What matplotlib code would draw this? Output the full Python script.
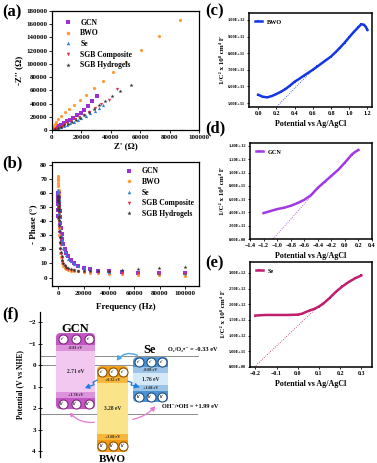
import matplotlib
matplotlib.use("Agg")
from matplotlib import pyplot as plt
from matplotlib.patches import FancyBboxPatch, Rectangle, FancyArrowPatch
from matplotlib.ticker import FuncFormatter
import numpy as np

plt.rcParams['font.family'] = ['Liberation Serif', 'DejaVu Serif']
plt.rcParams['font.weight'] = 'bold'
plt.rcParams['axes.labelweight'] = 'bold'
plt.rcParams['mathtext.fontset'] = 'stix'
plt.rcParams['axes.linewidth'] = 0.9

#########################################################
# data
#########################################################
# (a) Nyquist plots, Z' and -Z'' in ohm
gcn_zr = [1000, 2000, 3000, 4500, 6000, 8000, 10000, 12000, 14500, 17000, 19500, 22000, 24500, 27500, 30500]
gcn_zi = [1200, 2500, 4000, 6000, 8000, 10500, 13000, 15500, 18500, 22000, 26000, 31000, 37000, 44500, 52000]
bwo_zr = [400, 1100, 1800, 2900, 4400, 6200, 8900, 11600, 14900, 18900, 23300, 28400, 34400, 41500, 50000, 60700, 73100, 87300]
bwo_zi = [3000, 6000, 9100, 12600, 16600, 21200, 26700, 31700, 37800, 45300, 53000, 63000, 74500, 88000, 103000, 121000, 142000, 166000]
se_zr = [1200, 2500, 4000, 6000, 8000, 10000, 12500, 15000, 17500, 20000, 23000, 26000, 29000, 32000, 35000]
se_zi = [800, 1800, 3000, 4500, 6200, 8000, 10000, 12500, 15000, 18000, 21500, 25000, 29000, 33500, 38500]
comp_zr = [1500, 3000, 4500, 6500, 8500, 10500, 13000, 15500, 18500, 21500, 25000, 29000, 33500, 38500, 44500]
comp_zi = [1500, 3000, 4500, 6500, 8500, 10500, 13000, 16000, 19500, 23000, 27500, 33000, 39000, 45000, 62000]
hyd_zr = [2000, 4000, 6000, 8500, 11000, 13500, 16000, 19000, 22000, 25000, 28500, 32000, 36000, 40500, 46000, 53500]
hyd_zi = [1500, 3200, 5000, 7200, 9500, 12000, 15000, 18500, 22500, 27000, 32000, 37500, 43500, 51000, 59000, 68000]

# (b) Bode phase plots
freq = [100000, 79433, 63096, 50119, 39811, 31623, 25119, 19953, 15849, 12589,
        10000, 7943, 6310, 5012, 3981, 3162, 2512, 1995, 1585, 1259,
        1000, 794, 631, 501, 398, 316, 251, 200, 158, 126,
        100, 79, 63, 50, 40, 25, 10, 5, 1]
gcn_ph = [3.0, 3.0, 3.5, 4.0, 4.5, 5.0, 5.8, 7.0, 8.5, 10.5,
          12.5, 15.0, 17.5, 20.5, 24.0, 27.5, 31.0, 35.0, 39.0, 43.0,
          47.0, 50.0, 53.0, 55.0, 57.0, 58.0, 59.0, 60.0, 60.0, 60.0,
          60.0, 59.5, 59.0, 58.0, 57.0, 55.0, 52.0, 48.0, 44.0]
bwo_ph = [0.8, 1.5, 2.0, 2.3, 2.8, 3.2, 3.5, 4.0, 4.3, 4.7,
          5.0, 5.5, 6.0, 7.0, 8.5, 10.0, 12.0, 14.5, 17.5, 21.0,
          25.0, 30.0, 35.0, 40.0, 45.0, 50.0, 55.0, 59.0, 62.0, 65.0,
          67.0, 69.0, 70.0, 71.0, 72.0, 71.0, 69.0, 66.0, 62.0]
se_ph = [3.5, 3.5, 4.0, 4.0, 4.2, 5.0, 5.5, 6.5, 8.0, 9.5,
         11.5, 13.5, 16.0, 18.5, 21.0, 24.0, 27.0, 30.0, 33.5, 37.0,
         40.0, 43.0, 46.0, 49.0, 51.0, 53.0, 55.0, 56.0, 57.0, 58.0,
         59.0, 60.0, 61.0, 61.5, 62.0, 61.0, 58.0, 52.0, 45.0]
comp_ph = [2.5, 2.5, 3.0, 3.5, 3.8, 4.2, 4.5, 4.8, 5.0, 5.3,
           5.7, 6.2, 7.0, 8.0, 9.5, 11.5, 14.0, 17.0, 20.0, 24.0,
           28.0, 32.0, 36.0, 40.0, 43.0, 46.0, 49.0, 51.0, 53.0, 54.0,
           55.0, 56.0, 57.0, 57.0, 58.0, 57.0, 55.0, 50.0, 43.0]
hyd_ph = [7.5, 6.5, 5.8, 5.2, 4.8, 4.8, 4.8, 4.8, 5.0, 5.3,
          5.8, 6.5, 7.5, 9.0, 10.5, 12.5, 15.0, 18.0, 21.0, 25.0,
          29.0, 33.0, 37.0, 41.0, 44.0, 47.0, 49.0, 51.0, 53.0, 54.0,
          55.0, 56.0, 57.0, 58.0, 58.0, 57.0, 54.0, 49.0, 42.0]

# (c)-(e) Mott-Schottky plots
bwo_v = [0.00, 0.05, 0.10, 0.15, 0.20, 0.25, 0.30, 0.35, 0.40, 0.45, 0.50, 0.55, 0.60, 0.65,
         0.70, 0.75, 0.80, 0.85, 0.90, 0.95, 1.00, 1.05, 1.10, 1.13, 1.16, 1.18, 1.20]
bwo_c = [5.50e11, 5.38e11, 5.34e11, 5.42e11, 5.54e11, 5.68e11, 5.84e11, 6.05e11, 6.28e11, 6.45e11,
         6.64e11, 6.82e11, 7.00e11, 7.20e11, 7.40e11, 7.60e11, 7.80e11, 8.06e11, 8.34e11, 8.64e11,
         8.96e11, 9.28e11, 9.56e11, 9.74e11, 9.72e11, 9.60e11, 9.40e11]
bwo_fit_v = [0.19, 0.60]
bwo_fit_c = [4.70e11, 7.00e11]

gcn_v = [-1.20, -1.10, -1.00, -0.90, -0.80, -0.70, -0.60, -0.50, -0.40, -0.30, -0.20, -0.10,
         0.00, 0.10, 0.15, 0.20]
gcn_c = [3.9e11, 4.2e11, 4.5e11, 4.7e11, 5.0e11, 5.4e11, 5.9e11, 6.6e11, 7.7e11, 8.6e11, 9.5e11,
         10.4e11, 11.5e11, 12.7e11, 13.1e11, 13.4e11]
gcn_fit_v = [-1.06, -0.30]
gcn_fit_c = [0.0, 8.7e11]

se_v = [-0.20, -0.18, -0.15, -0.10, -0.05, 0.00, 0.02, 0.04, 0.06, 0.08, 0.10, 0.12, 0.15,
        0.18, 0.21, 0.24, 0.27, 0.30]
se_c = [1.64e12, 1.65e12, 1.66e12, 1.66e12, 1.66e12, 1.67e12, 1.70e12, 1.76e12, 1.81e12, 1.86e12,
        1.93e12, 2.02e12, 2.20e12, 2.40e12, 2.57e12, 2.71e12, 2.83e12, 2.92e12]
se_fit_v = [-0.205, 0.12]
se_fit_c = [0.0, 2.08e12]

# (f) band diagram: drawn edges in V (top, e band end, strip end, strip start, h band start, bottom)
band_names = ['GCN', 'BWO', 'Se']
band_edges = [[-1.49, -0.93, -0.65, 1.26, 1.53, 2.05],
              [0.05, 0.56, 0.84, 3.21, 3.49, 4.05],
              [-0.37, 0.09, 0.37, 0.93, 1.21, 1.72]]
cb_text = ['-0.81 eV', '+0.32 eV', '-0.08 eV']
vb_text = ['+1.78 eV', '+3.60 eV', '+1.68 eV']
gap_text = ['2.71 eV', '3.28 eV', '1.76 eV']
ref_levels = [-0.42, 0.0, 2.28]

#########################################################
W, H = 377, 463
fig = plt.figure(figsize=(W / 100, H / 100), dpi=100)


def rect(l, t, r, b):
    return [l / W, 1 - b / H, (r - l) / W, (b - t) / H]


def style(ax, fs=5):
    ax.tick_params(direction='out', length=2, width=0.6, labelsize=fs, pad=1.5)
    for lab in ax.get_xticklabels() + ax.get_yticklabels():
        lab.set_fontweight('bold')


colors = ['#9b30d9', '#ff9a3c', '#2f80d0', '#e0304a', '#333333']
markers = ['s', 'o', '^', 'v', '*']
names = ['GCN', 'BWO', 'Se', 'SGB Composite', 'SGB Hydrogels']

# (a)
ax = fig.add_axes(rect(52, 11, 199, 130))
zr = [gcn_zr, bwo_zr, se_zr, comp_zr, hyd_zr]
zi = [gcn_zi, bwo_zi, se_zi, comp_zi, hyd_zi]
for i in range(5):
    ax.plot(zr[i], zi[i], ls='none', marker=markers[i], ms=2.3 if i != 4 else 3, color=colors[i],
            mew=0, label=names[i])
ax.set_xlim(0, 100000)
ax.set_ylim(0, 180000)
ax.set_xticks([0, 20000, 40000, 60000, 80000, 100000])
ax.set_yticks(range(0, 180001, 20000))
ax.set_xlabel("Z' (Ω)", fontsize=6.5, labelpad=2)
ax.set_ylabel("-Z'' (Ω)", fontsize=6.5, labelpad=2)
ax.legend(loc='upper left', frameon=False, fontsize=5.5, handletextpad=0.6, labelspacing=0.35,
          borderaxespad=0.3, bbox_to_anchor=(0.02, 0.98), markerscale=1.1)
style(ax)

# (b)
ax = fig.add_axes(rect(52, 162, 199, 286))
ph = [gcn_ph, bwo_ph, se_ph, comp_ph, hyd_ph]
for i in range(5):
    ax.plot(freq, ph[i], ls='none', marker=markers[i], ms=2.3 if i != 4 else 3, color=colors[i],
            mew=0, label=names[i])
ax.set_xlim(-5000, 111000)
ax.set_ylim(-6, 82)
ax.set_xticks([0, 20000, 40000, 60000, 80000, 100000])
ax.set_yticks(range(0, 81, 10))
ax.set_xlabel("Frequency (Hz)", fontsize=6.5, labelpad=5)
ax.set_ylabel("- Phase (°)", fontsize=6.5, labelpad=2)
ax.legend(loc='upper right', frameon=False, fontsize=5.5, handletextpad=0.6, labelspacing=0.35,
          borderaxespad=0.3, markerscale=1.1)
style(ax)

sci = FuncFormatter(lambda v, p: f"{v:.2E}")
ylab = "1/C² x 10⁸ cm⁴ F"


def ms_panel(r, v, c, fv, fc, col, name, xlim, ylim, xt, yt):
    ax = fig.add_axes(r)
    ax.plot(v, c, '-', color=col, lw=1.8, marker='s', ms=1.6, mew=0, label=name)
    ax.plot(fv, fc, ':', color=col, lw=0.6)
    ax.set_xlim(*xlim)
    ax.set_ylim(*ylim)
    ax.set_xticks(xt)
    ax.set_yticks(yt)
    ax.yaxis.set_major_formatter(sci)
    ax.set_xlabel("Potential vs Ag/AgCl", fontsize=5.8, labelpad=3)
    ax.set_ylabel(ylab, fontsize=5, labelpad=2)
    ax.legend(loc='upper left', frameon=False, fontsize=4.5, handlelength=1.0, markerscale=1.2,
              borderaxespad=0.6)
    ax.tick_params(direction='out', length=1.5, width=0.6, pad=1.5)
    ax.tick_params(axis='x', labelsize=4.3)
    ax.tick_params(axis='y', labelsize=3.2)
    for lab in ax.get_xticklabels() + ax.get_yticklabels():
        lab.set_fontweight('bold')
    for s in ax.spines.values():
        s.set_linewidth(1.1)
    return ax


ms_panel(rect(249, 13, 372, 107), bwo_v, bwo_c, bwo_fit_v, bwo_fit_c, '#1536e6', 'BWO',
         (-0.1, 1.25), (4.76e11, 1.042e12), [0.0, 0.2, 0.4, 0.6, 0.8, 1.0, 1.2],
         [5e11, 6e11, 7e11, 8e11, 9e11, 1e12])
ms_panel(rect(250, 143, 372, 239), gcn_v, gcn_c, gcn_fit_v, gcn_fit_c, '#a13ae6', 'GCN',
         (-1.4, 0.4), (0, 1.445e12), [-1.4, -1.2, -1.0, -0.8, -0.6, -0.4, -0.2, 0.0, 0.2, 0.4],
         [0, 2e11, 4e11, 6e11, 8e11, 1e12, 1.2e12, 1.4e12])
ms_panel(rect(250, 262, 372, 367), se_v, se_c, se_fit_v, se_fit_c, '#c01f6e', 'Se',
         (-0.225, 0.35), (0, 3.35e12), [-0.2, -0.1, 0.0, 0.1, 0.2, 0.3],
         [0, 5e11, 1e12, 1.5e12, 2e12, 2.5e12, 3e12])

# (f) band diagram, x in pixels from the axis line, y in V
ax = fig.add_axes(rect(40, 312, 200, 457))
ax.set_xlim(0, 160)
ax.set_ylim(4.28, -2.47)
for s in ['top', 'right', 'bottom']:
    ax.spines[s].set_visible(False)
ax.spines['left'].set_linewidth(0.9)
ax.set_xticks([])
ax.set_yticks([-2, -1, 0, 1, 2, 3, 4])
ax.tick_params(axis='y', direction='inout', length=3, width=0.6, labelsize=5, pad=1.5)
for lab in ax.get_yticklabels():
    lab.set_fontweight('bold')
ax.set_ylabel("Potential (V vs NHE)", fontsize=5.5, labelpad=3)

asp = 1 / 21.5
line_ends = [158, 93, 157]
for lev, xe in zip(ref_levels, line_ends):
    ax.plot([0, xe], [lev, lev], color='#8c8c8c', lw=0.7, zorder=1)

box_x = [(16, 55), (57, 88), (93, 128)]
dark = ['#c455c4', '#f29a12', '#4b91d3']
light = ['#f3c8f0', '#fbe38a', '#d5e8f7']
strip = ['#dd92dc', '#f9b73a', '#9cc4e6']
ecol = ['#7d2a7d', '#8a5200', '#1f4f80']
zs = [2, 4, 3]
for k in range(3):
    x0, x1 = box_x[k]
    e = band_edges[k]
    z = zs[k]
    ax.add_patch(FancyBboxPatch((x0, e[0]), x1 - x0, e[5] - e[0],
                                boxstyle="round,pad=0,rounding_size=4.5", mutation_aspect=asp,
                                fc=dark[k], ec='none', zorder=z))
    ax.add_patch(Rectangle((x0, e[1]), x1 - x0, e[2] - e[1], fc=strip[k], ec='none', zorder=z))
    ax.add_patch(Rectangle((x0, e[2]), x1 - x0, e[3] - e[2], fc=light[k], ec='none', zorder=z))
    ax.add_patch(Rectangle((x0, e[3]), x1 - x0, e[4] - e[3], fc=strip[k], ec='none', zorder=z))
    xm = (x0 + x1) / 2
    ax.text(xm, (e[1] + e[2]) / 2, cb_text[k], fontsize=3, ha='center', va='center', zorder=z,
            color='#222222')
    ax.text(xm, (e[3] + e[4]) / 2, vb_text[k], fontsize=3, ha='center', va='center', zorder=z,
            color='#222222')
    ax.text(xm, (e[2] + e[3]) / 2, gap_text[k], fontsize=4, ha='center', va='center', zorder=z,
            color='#222222')
    step = (x1 - x0) / 3
    cx = [x0 + step * (j + 0.5) for j in range(3)]
    ye = (e[0] + e[1]) / 2
    yh = (e[4] + e[5]) / 2
    ax.plot(cx, [ye] * 3, 'o', ms=6.5, mfc='white', mec=ecol[k], mew=0.8, zorder=z)
    ax.plot(cx, [yh] * 3, 'o', ms=6.5, mfc='white', mec=ecol[k], mew=0.8, zorder=z)
    for c in cx:
        ax.text(c, ye, "e⁻", fontsize=3, ha='center', va='center', zorder=z, color='#333333')
        ax.text(c, yh, "h⁺", fontsize=3, ha='center', va='center', zorder=z, color='#333333')

ax.text(35.5, -1.67, 'GCN', fontsize=9, ha='center', va='center')
ax.text(72.5, 4.5, 'BWO', fontsize=8, ha='center', va='baseline', clip_on=False)
ax.text(110, -0.70, 'Se', fontsize=9, ha='center', va='center')
ax.text(128, -0.73, "O₂/O₂•⁻ = -0.33 eV", fontsize=4.5, ha='left', va='center', clip_on=False)
ax.text(122, 1.93, "OH⁻/•OH = +1.99 eV", fontsize=4.5, ha='left', va='center', clip_on=False)

# electron transfer arrows
ax.add_patch(FancyArrowPatch((100, -0.40), (75, -0.10), connectionstyle="arc3,rad=0.45",
                             arrowstyle='-|>,head_length=2.5,head_width=1.5', color='#4aa8e0',
                             lw=1.0, zorder=6))
zig1_x = [57, 53, 54, 50]
zig1_y = [0.70, 0.80, 0.92, 0.98]
ax.plot(zig1_x, zig1_y, color='#1e7fe0', lw=0.9, zorder=6)
ax.annotate('', xy=(45, 1.07), xytext=(50, 0.98),
            arrowprops=dict(arrowstyle='-|>,head_length=0.25,head_width=0.15', color='#1e7fe0', lw=0.9),
            zorder=6)
zig2_x = [88, 92, 91, 96]
zig2_y = [0.75, 0.82, 0.93, 0.98]
ax.plot(zig2_x, zig2_y, color='#1e7fe0', lw=0.9, zorder=6)
ax.annotate('', xy=(102, 1.07), xytext=(96, 0.98),
            arrowprops=dict(arrowstyle='-|>,head_length=0.25,head_width=0.15', color='#1e7fe0', lw=0.9),
            zorder=6)
# hole transfer arrows
ax.add_patch(FancyArrowPatch((57, 2.65), (28, 2.12), connectionstyle="arc3,rad=-0.3",
                             arrowstyle='-|>,head_length=2,head_width=1.2', color='#e27ad6',
                             lw=0.9, zorder=1))
ax.add_patch(FancyArrowPatch((90, 2.55), (117, 1.82), connectionstyle="arc3,rad=0.2",
                             arrowstyle='-|>,head_length=2.5,head_width=1.5', color='#e27ad6',
                             lw=0.9, zorder=5))

# panel letters
for lbl, x, y in [('(a)', 2, 12), ('(b)', 2, 163), ('(c)', 205, 11), ('(d)', 205, 128),
                  ('(e)', 205, 263), ('(f)', 2, 314)]:
    fig.text(x / W, 1 - y / H, lbl, fontsize=12, ha='left', va='center')

fig.savefig('out.png', dpi=100)
